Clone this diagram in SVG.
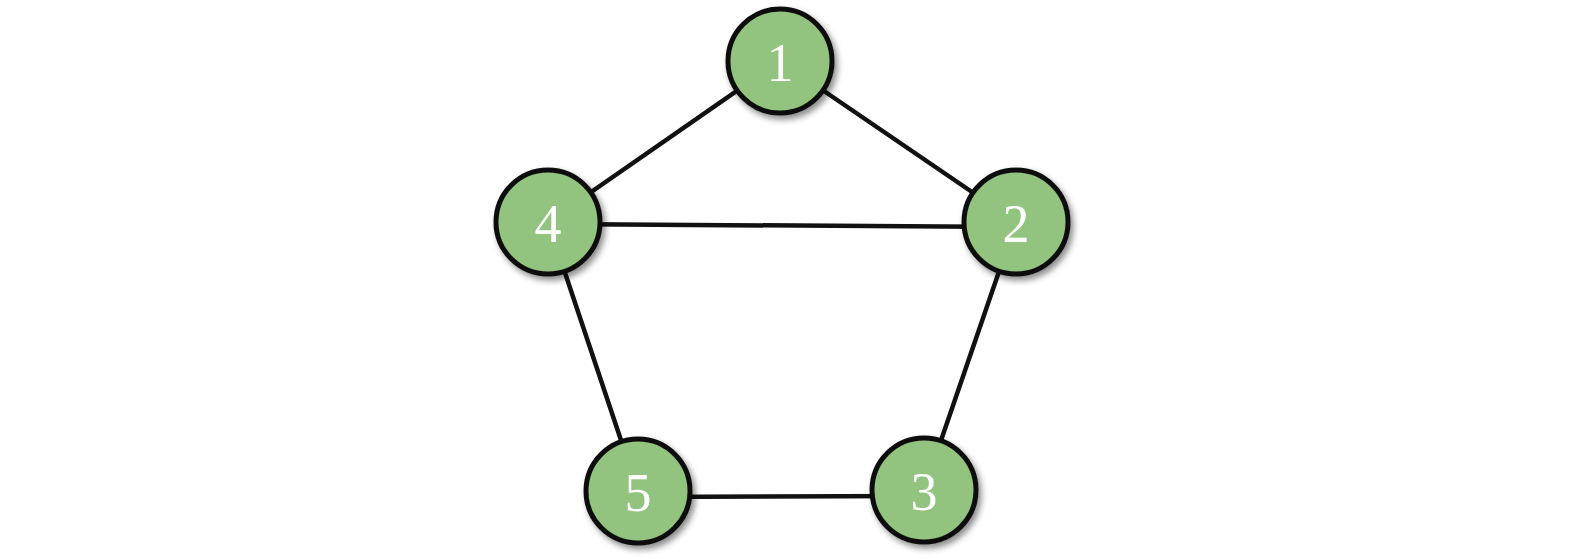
<svg xmlns="http://www.w3.org/2000/svg" width="1575" height="559" viewBox="0 0 1575 559">
<defs>
<filter id="sh" x="-30%" y="-30%" width="160%" height="160%">
<feDropShadow dx="3" dy="4" stdDeviation="3" flood-color="#000" flood-opacity="0.45"/>
</filter>
<style>
.node circle{fill:#93c47f;stroke:#111;stroke-width:5;filter:url(#sh);}
.node text{font-family:"Liberation Serif","Times New Roman",serif;font-size:54px;fill:#fff;text-anchor:middle;dominant-baseline:central;}
.edges line{stroke:#111;stroke-width:4.5;stroke-linecap:round;}
</style>
</defs>
<rect width="1575" height="559" fill="#fff"/>
<g class="edges" id="edges">
<line x1="780" y1="61" x2="548" y2="222"/>
<line x1="780" y1="61" x2="1016" y2="222"/>
<line x1="548" y1="224" x2="1016" y2="227"/>
<line x1="548" y1="222" x2="638" y2="491"/>
<line x1="1016" y1="222" x2="924" y2="490"/>
<line x1="638" y1="497" x2="924" y2="496"/>
</g>
<g class="node" id="n1"><circle cx="780" cy="61" r="52"/><text x="780" y="63">1</text></g>
<g class="node" id="n4"><circle cx="548" cy="222" r="52"/><text x="548" y="224">4</text></g>
<g class="node" id="n2"><circle cx="1016" cy="222" r="52"/><text x="1016" y="224">2</text></g>
<g class="node" id="n5"><circle cx="638" cy="491" r="52"/><text x="638" y="493">5</text></g>
<g class="node" id="n3"><circle cx="924" cy="490" r="52"/><text x="924" y="492">3</text></g>
</svg>
